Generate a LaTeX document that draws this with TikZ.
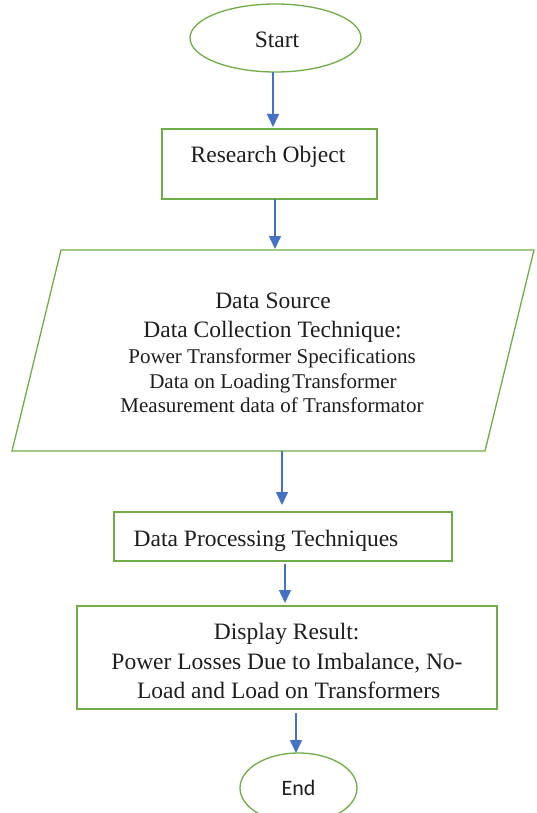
\documentclass[tikz,border=0pt]{standalone}
\usepackage{fontspec}
\setmainfont{Liberation Serif}
\newfontfamily\calibfont{Carlito}
\usetikzlibrary{arrows.meta,shapes.geometric}
\definecolor{boxgreen}{RGB}{112,173,71}
\definecolor{arrblue}{RGB}{68,114,196}
\definecolor{txtc}{RGB}{30,30,30}
\begin{document}
\begin{tikzpicture}[x=1pt,y=-1pt,
  shapeline/.style={draw=boxgreen,line width=1.3pt},
  boxnode/.style={shapeline,rectangle,inner sep=0pt,outer sep=0pt},
  ovalnode/.style={shapeline,ellipse,inner sep=0pt,outer sep=0pt},
  bigtxt/.style={text=txtc,anchor=base,inner sep=0pt,font=\fontsize{23.5}{28}\selectfont},
  smalltxt/.style={text=txtc,anchor=base,inner sep=0pt,font=\fontsize{21}{25}\selectfont},
  endtxt/.style={text=txtc,anchor=base,inner sep=0pt,font=\calibfont\fontsize{22}{26}\selectfont},
  arr/.style={draw=arrblue,line width=1.5pt,-{Triangle[length=13pt,width=12pt]}}]
\useasboundingbox (0,0) rectangle (537,813);
\clip (0,0) rectangle (537,813);
\fill[white] (0,0) rectangle (537,813);

% Start
\node[ovalnode,minimum width=171pt,minimum height=68pt] (start) at (275.5,38) {};
\node[bigtxt] (starttxt) at (277,47.5) {Start};

% Research Object
\node[boxnode,minimum width=215pt,minimum height=70pt] (ro) at (269.5,164) {};
\node[bigtxt] (rotxt) at (268,163) {Research Object};

% Parallelogram
\coordinate (ptl) at (61,250);
\coordinate (ptr) at (534,250);
\coordinate (pbr) at (485,451);
\coordinate (pbl) at (12,451);
\draw[shapeline,line join=miter] (ptl) -- (ptr) -- (pbr) -- (pbl) -- cycle;
\node[bigtxt] (src1) at (273,308) {Data Source};
\node[bigtxt] (src2) at (272.5,337) {Data Collection Technique:};
\node[smalltxt] (src3) at (272,363) {Power Transformer Specifications};
\node[smalltxt] (src4) at (273,388) {Data on Loading\hspace{2pt}Transformer};
\node[smalltxt] (src5) at (272,412) {Measurement data of Transformator};

% Data Processing
\node[boxnode,minimum width=338pt,minimum height=49pt] (dp) at (283,536.5) {};
\node[bigtxt] (dptxt) at (266,546) {Data Processing Techniques};

% Display Result
\node[boxnode,minimum width=420pt,minimum height=103pt] (dr) at (287,657.5) {};
\node[bigtxt] (dr1) at (286.7,639.3) {Display Result:};
\node[bigtxt] (dr2) at (287,669.3) {Power Losses Due to Imbalance, No-};
\node[bigtxt] (dr3) at (288.7,698.3) {Load and Load on Transformers};

% End
\node[ovalnode,minimum width=117pt,minimum height=70pt] (endn) at (298.5,788) {};
\node[endtxt] (endtxt) at (298.5,795) {End};

% arrow x positions
\coordinate (a1) at (273,0);
\coordinate (a2) at (275,0);
\coordinate (a3) at (282,0);
\coordinate (a4) at (285,0);
\coordinate (a5) at (296,0);

\draw[arr] (start.south -| a1) -- ([yshift=2pt]ro.north -| a1);
\draw[arr] (ro.south -| a2) -- ([yshift=1pt]ptl -| a2);
\draw[arr] (pbl -| a3) -- ([yshift=7pt]dp.north -| a3);
\draw[arr] ([yshift=-3pt]dp.south -| a4) -- ([yshift=3pt]dr.north -| a4);
\draw[arr] ([yshift=-4pt]dr.south -| a5) -- (endn.north -| a5);
\end{tikzpicture}
\end{document}
